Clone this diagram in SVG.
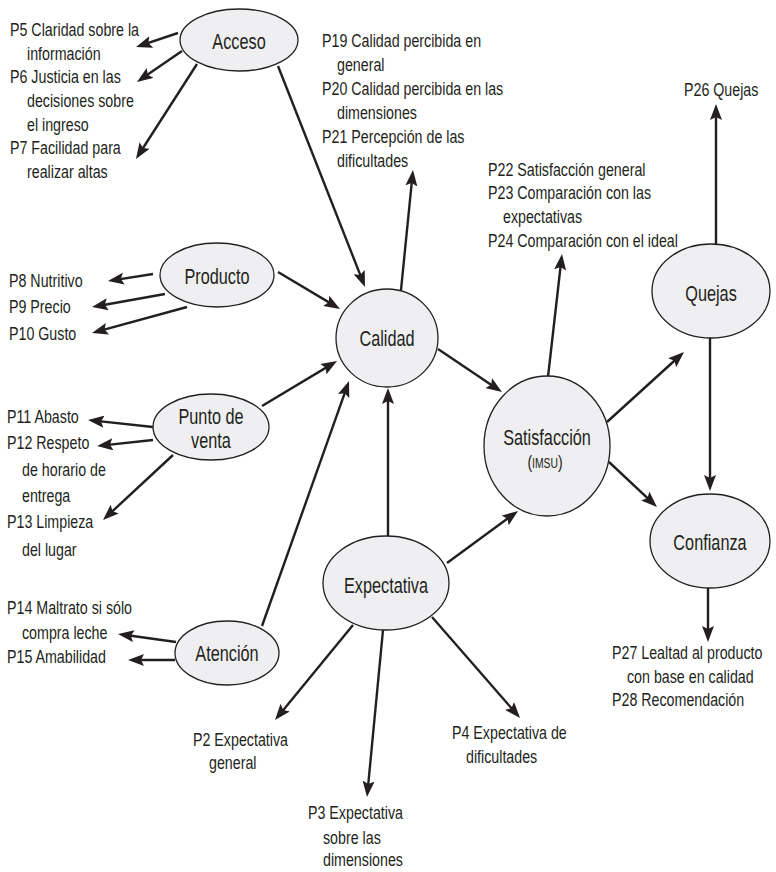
<svg xmlns="http://www.w3.org/2000/svg" width="776" height="872" viewBox="0 0 776 872">
<defs>
<marker id="ah" viewBox="0 0 16 12" refX="10" refY="6" markerWidth="16" markerHeight="12" markerUnits="userSpaceOnUse" orient="auto">
<path d="M0,0 L16,6 L0,12 L3,6 Z" fill="#231f20"/>
</marker>
<style>
.n ellipse{fill:#efeff1;stroke:#231f20;stroke-width:1.3}
.nt{font-family:"Liberation Sans",Arial,sans-serif;font-size:22px;fill:#231f20;text-anchor:middle}
.t{font-family:"Liberation Sans",Arial,sans-serif;font-size:18.5px;fill:#231f20}
#edges line{stroke:#231f20;stroke-width:2.4;marker-end:url(#ah)}
</style>
</defs>
<rect width="776" height="872" fill="#ffffff"/>

<g id="edges">
<line x1="178" y1="33" x2="141.7" y2="45.1"/>
<line x1="182" y1="51" x2="141.9" y2="78.6"/>
<line x1="197" y1="64" x2="139.2" y2="154"/>
<line x1="278" y1="66" x2="362.8" y2="281.4"/>
<line x1="401" y1="290" x2="412.4" y2="176"/>
<line x1="278" y1="272" x2="334.8" y2="305.9"/>
<line x1="153" y1="274" x2="113.9" y2="280.1"/>
<line x1="165" y1="294" x2="97.9" y2="306"/>
<line x1="187" y1="307" x2="97.8" y2="331.4"/>
<line x1="262" y1="406" x2="331.9" y2="364.1"/>
<line x1="153" y1="427" x2="94" y2="420.6"/>
<line x1="153" y1="440" x2="103" y2="445.4"/>
<line x1="173" y1="455" x2="107.4" y2="515.9"/>
<line x1="262" y1="626" x2="347" y2="386.7"/>
<line x1="176" y1="642" x2="123.9" y2="634.8"/>
<line x1="175" y1="660" x2="134" y2="660"/>
<line x1="388" y1="536" x2="388" y2="394"/>
<line x1="438" y1="349" x2="497" y2="388.7"/>
<line x1="447" y1="563" x2="513.2" y2="514.5"/>
<line x1="548" y1="377" x2="561.3" y2="260"/>
<line x1="607" y1="422" x2="679.6" y2="356"/>
<line x1="609" y1="462" x2="652.6" y2="502.9"/>
<line x1="716" y1="245" x2="716" y2="110"/>
<line x1="710" y1="338" x2="710" y2="485"/>
<line x1="708" y1="588" x2="708" y2="636"/>
<line x1="353" y1="625" x2="278.8" y2="715.4"/>
<line x1="383" y1="630" x2="367.6" y2="791"/>
<line x1="432" y1="617" x2="516.1" y2="713.5"/>
</g>

<g id="acceso" class="n">
<ellipse cx="239" cy="40" rx="59" ry="31"/>
<text class="nt" transform="translate(239,49) scale(0.74,1)">Acceso</text>
</g>
<g id="producto" class="n">
<ellipse cx="217" cy="275" rx="57" ry="32"/>
<text class="nt" transform="translate(217,284) scale(0.74,1)">Producto</text>
</g>
<g id="calidad" class="n">
<ellipse cx="387" cy="338" rx="51" ry="49"/>
<text class="nt" transform="translate(387,346) scale(0.74,1)">Calidad</text>
</g>
<g id="punto_venta" class="n">
<ellipse cx="211" cy="427" rx="58" ry="33"/>
<text class="nt" transform="translate(211,424) scale(0.74,1)">Punto de</text>
<text class="nt" transform="translate(211,448) scale(0.74,1)">venta</text>
</g>
<g id="atencion" class="n">
<ellipse cx="227" cy="653" rx="52" ry="32"/>
<text class="nt" transform="translate(227,661) scale(0.74,1)">Atención</text>
</g>
<g id="expectativa" class="n">
<ellipse cx="386" cy="583" rx="63" ry="47"/>
<text class="nt" transform="translate(386,593) scale(0.74,1)">Expectativa</text>
</g>
<g id="satisfaccion" class="n">
<ellipse cx="547" cy="446" rx="63" ry="70"/>
<text class="nt" transform="translate(547,445) scale(0.74,1)">Satisfacción</text>
<text class="nt" transform="translate(545,468) scale(0.74,1)" style="font-size:19px">(<tspan style="font-size:14px">IMSU</tspan>)</text>
</g>
<g id="quejas" class="n">
<ellipse cx="711" cy="291" rx="59" ry="47"/>
<text class="nt" transform="translate(711,301) scale(0.74,1)">Quejas</text>
</g>
<g id="confianza" class="n">
<ellipse cx="710" cy="541" rx="60" ry="47"/>
<text class="nt" transform="translate(710,550) scale(0.74,1)">Confianza</text>
</g>

<g id="items_acceso">
<text class="t" transform="translate(10,36) scale(0.77,1)">P5 Claridad sobre la</text>
<text class="t" transform="translate(27,60) scale(0.77,1)">información</text>
<text class="t" transform="translate(10,83) scale(0.77,1)">P6 Justicia en las</text>
<text class="t" transform="translate(27,107) scale(0.77,1)">decisiones sobre</text>
<text class="t" transform="translate(27,131) scale(0.77,1)">el ingreso</text>
<text class="t" transform="translate(10,154) scale(0.77,1)">P7 Facilidad para</text>
<text class="t" transform="translate(27,178) scale(0.77,1)">realizar altas</text>
</g>
<g id="items_calidad">
<text class="t" transform="translate(322,47) scale(0.77,1)">P19 Calidad percibida en</text>
<text class="t" transform="translate(337,71) scale(0.77,1)">general</text>
<text class="t" transform="translate(322,95) scale(0.77,1)">P20 Calidad percibida en las</text>
<text class="t" transform="translate(337,119) scale(0.77,1)">dimensiones</text>
<text class="t" transform="translate(322,143) scale(0.77,1)">P21 Percepción de las</text>
<text class="t" transform="translate(337,167) scale(0.77,1)">dificultades</text>
</g>
<g id="items_satisfaccion">
<text class="t" transform="translate(488,176) scale(0.77,1)">P22 Satisfacción general</text>
<text class="t" transform="translate(488,199) scale(0.77,1)">P23 Comparación con las</text>
<text class="t" transform="translate(503,223) scale(0.77,1)">expectativas</text>
<text class="t" transform="translate(488,247) scale(0.77,1)">P24 Comparación con el ideal</text>
</g>
<g id="items_quejas">
<text class="t" transform="translate(684,96) scale(0.77,1)">P26 Quejas</text>
</g>
<g id="items_producto">
<text class="t" transform="translate(9,287) scale(0.77,1)">P8 Nutritivo</text>
<text class="t" transform="translate(9,313) scale(0.77,1)">P9 Precio</text>
<text class="t" transform="translate(9,340) scale(0.77,1)">P10 Gusto</text>
</g>
<g id="items_punto">
<text class="t" transform="translate(7,423) scale(0.77,1)">P11 Abasto</text>
<text class="t" transform="translate(7,449) scale(0.77,1)">P12 Respeto</text>
<text class="t" transform="translate(22,476) scale(0.77,1)">de horario de</text>
<text class="t" transform="translate(22,502) scale(0.77,1)">entrega</text>
<text class="t" transform="translate(7,528) scale(0.77,1)">P13 Limpieza</text>
<text class="t" transform="translate(22,556) scale(0.77,1)">del lugar</text>
</g>
<g id="items_atencion">
<text class="t" transform="translate(7,614) scale(0.77,1)">P14 Maltrato si sólo</text>
<text class="t" transform="translate(22,639) scale(0.77,1)">compra leche</text>
<text class="t" transform="translate(7,663) scale(0.77,1)">P15 Amabilidad</text>
</g>
<g id="items_expectativa">
<text class="t" transform="translate(193,746) scale(0.77,1)">P2 Expectativa</text>
<text class="t" transform="translate(209,769) scale(0.77,1)">general</text>
<text class="t" transform="translate(308,819) scale(0.77,1)">P3 Expectativa</text>
<text class="t" transform="translate(323,844) scale(0.77,1)">sobre las</text>
<text class="t" transform="translate(323,866) scale(0.77,1)">dimensiones</text>
<text class="t" transform="translate(452,739) scale(0.77,1)">P4 Expectativa de</text>
<text class="t" transform="translate(466,763) scale(0.77,1)">dificultades</text>
</g>
<g id="items_confianza">
<text class="t" transform="translate(612,659) scale(0.77,1)">P27 Lealtad al producto</text>
<text class="t" transform="translate(627,683) scale(0.77,1)">con base en calidad</text>
<text class="t" transform="translate(612,706) scale(0.77,1)">P28 Recomendación</text>
</g>
</svg>
